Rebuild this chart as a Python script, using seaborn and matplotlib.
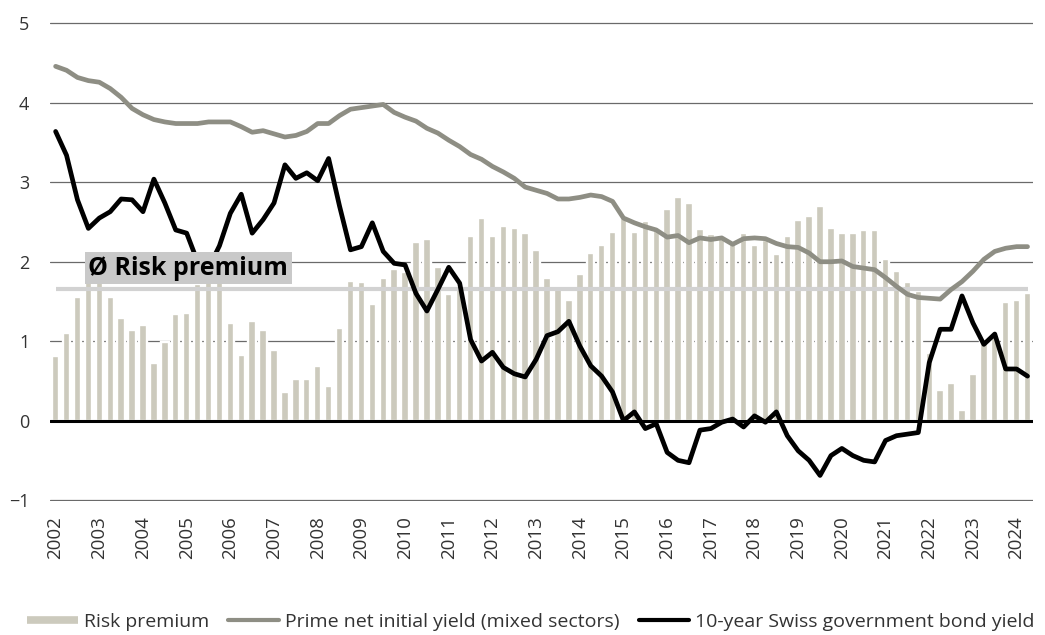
import numpy as np
import pandas as pd
import matplotlib
matplotlib.use("Agg")
import matplotlib.pyplot as plt
from matplotlib.lines import Line2D
import seaborn as sns

# -------------------------------
# Data (quarterly, 2002 Q1 - 2024 Q2), in %
# -------------------------------
years = list(range(2002, 2025))
quarters = [f"{y}Q{q}" for y in years for q in range(1, 5)][:90]

risk_premium = [
    0.81, 1.10, 1.56, 1.75,
    1.78, 1.56, 1.29, 1.14,
    1.21, 0.73, 0.99, 1.34,
    1.36, 1.72, 1.80, 1.78,
    1.23, 0.82, 1.25, 1.14,
    0.89, 0.36, 0.53, 0.52,
    0.69, 0.44, 1.17, 1.76,
    1.75, 1.47, 1.80, 1.91,
    1.87, 2.25, 2.29, 1.94,
    1.59, 1.70, 2.33, 2.55,
    2.33, 2.45, 2.43, 2.36,
    2.15, 1.80, 1.68, 1.52,
    1.84, 2.11, 2.21, 2.37,
    2.55, 2.37, 2.51, 2.40,
    2.67, 2.82, 2.74, 2.41,
    2.35, 2.31, 2.24, 2.36,
    2.21, 2.27, 2.10, 2.32,
    2.52, 2.58, 2.70, 2.43,
    2.36, 2.36, 2.40, 2.40,
    2.04, 1.88, 1.75, 1.63,
    0.85, 0.38, 0.47, 0.13,
    0.59, 1.02, 1.10, 1.49,
    1.52, 1.61,
]

prime_yield = [
    4.46, 4.41, 4.32, 4.28,
    4.26, 4.18, 4.07, 3.93,
    3.85, 3.79, 3.76, 3.74,
    3.74, 3.74, 3.76, 3.76,
    3.76, 3.70, 3.63, 3.65,
    3.61, 3.57, 3.59, 3.64,
    3.74, 3.74, 3.84, 3.92,
    3.94, 3.96, 3.98, 3.88,
    3.82, 3.77, 3.68, 3.62,
    3.53, 3.45, 3.35, 3.29,
    3.20, 3.13, 3.05, 2.94,
    2.90, 2.86, 2.79, 2.79,
    2.81, 2.84, 2.82, 2.76,
    2.55, 2.49, 2.44, 2.40,
    2.31, 2.33, 2.24, 2.30,
    2.28, 2.30, 2.22, 2.29,
    2.30, 2.29, 2.23, 2.19,
    2.18, 2.11, 2.00, 2.00,
    2.01, 1.94, 1.92, 1.90,
    1.80, 1.69, 1.59, 1.55,
    1.54, 1.53, 1.65, 1.75,
    1.88, 2.03, 2.13, 2.17,
    2.19, 2.19,
]

bond_yield = [
    3.64, 3.34, 2.78, 2.42,
    2.55, 2.63, 2.79, 2.78,
    2.63, 3.04, 2.74, 2.40,
    2.36, 2.00, 1.92, 2.20,
    2.61, 2.85, 2.36, 2.53,
    2.74, 3.22, 3.05, 3.12,
    3.02, 3.30, 2.70, 2.15,
    2.19, 2.49, 2.13, 1.98,
    1.96, 1.60, 1.38, 1.65,
    1.93, 1.73, 1.02, 0.75,
    0.86, 0.67, 0.59, 0.55,
    0.77, 1.07, 1.12, 1.25,
    0.94, 0.69, 0.56, 0.36,
    0.00, 0.11, -0.10, -0.04,
    -0.40, -0.50, -0.53, -0.12,
    -0.10, -0.02, 0.02, -0.08,
    0.06, -0.02, 0.11, -0.19,
    -0.38, -0.50, -0.69, -0.44,
    -0.35, -0.44, -0.50, -0.52,
    -0.25, -0.19, -0.17, -0.15,
    0.73, 1.15, 1.15, 1.57,
    1.23, 0.96, 1.09, 0.65,
    0.65, 0.56,
]

avg_risk_premium = 1.66

df = pd.DataFrame({
    "quarter": quarters,
    "pos": np.arange(len(quarters)),
    "risk": risk_premium,
    "prime": prime_yield,
    "bond": bond_yield,
})

# -------------------------------
# Style
# -------------------------------
sns.set_style("white")
plt.rcParams["font.family"] = ["Open Sans", "DejaVu Sans"]

bar_color = "#cccabd"
prime_color = "#8e8e84"
bond_color = "#000000"
avg_color = "#d2d2d2"
text_color = "#333333"

fig, ax = plt.subplots(figsize=(10.45, 6.35), dpi=100)
fig.subplots_adjust(left=0.048, right=0.9885, top=0.9646, bottom=0.211)

# -------------------------------
# Bars + lines
# -------------------------------
sns.barplot(
    data=df, x="pos", y="risk", native_scale=True,
    color=bar_color, saturation=1, width=0.68,
    edgecolor="white", linewidth=1.7, ax=ax, zorder=2,
)

ax.axhline(0, color="black", lw=2.2, zorder=3.5)
ax.hlines(avg_risk_premium, df["pos"].iloc[0], df["pos"].iloc[-1],
          color=avg_color, lw=3, zorder=3)

sns.lineplot(data=df, x="pos", y="prime", color=prime_color, lw=3.4,
             ax=ax, zorder=4, solid_capstyle="round")
sns.lineplot(data=df, x="pos", y="bond", color=bond_color, lw=3.4,
             ax=ax, zorder=5, solid_capstyle="round")

ax.text(3.0, 1.92, "Ø Risk premium", fontsize=18, fontweight="bold",
        color="black", va="center", ha="left", zorder=6,
        bbox=dict(boxstyle="square,pad=0.14", fc="#c9c9c9", ec="none"))

# -------------------------------
# Axes
# -------------------------------
ax.set_xlim(-0.5, len(quarters) - 0.5)
ax.set_ylim(-1.012, 5.012)
ax.set_yticks(range(-1, 6))
ax.set_xticks(df["pos"].iloc[::4])
ax.set_xticklabels([str(y) for y in years], rotation=90)
ax.set_xlabel("")
ax.set_ylabel("")
ax.grid(axis="y", color="#6a6a6a", lw=0.9)
ax.set_axisbelow(True)
for s in ax.spines.values():
    s.set_visible(False)
ax.tick_params(axis="both", length=0, labelsize=13, colors=text_color)
ax.tick_params(axis="x", labelsize=13.5, pad=11)
ax.tick_params(axis="y", pad=15)

handles = [
    Line2D([], [], color=bar_color, lw=5.5, solid_capstyle="butt"),
    Line2D([], [], color=prime_color, lw=3, solid_capstyle="round"),
    Line2D([], [], color=bond_color, lw=3, solid_capstyle="round"),
]
labels = [
    "Risk premium",
    "Prime net initial yield (mixed sectors)",
    "10-year Swiss government bond yield",
]
fig.legend(handles, labels, loc="center", bbox_to_anchor=(0.508, 0.02),
           ncol=3, frameon=False, fontsize=14, handlelength=2.6,
           handletextpad=0.3, columnspacing=1.0, labelcolor=text_color)

plt.savefig("out.png", dpi=100)
plt.close()
